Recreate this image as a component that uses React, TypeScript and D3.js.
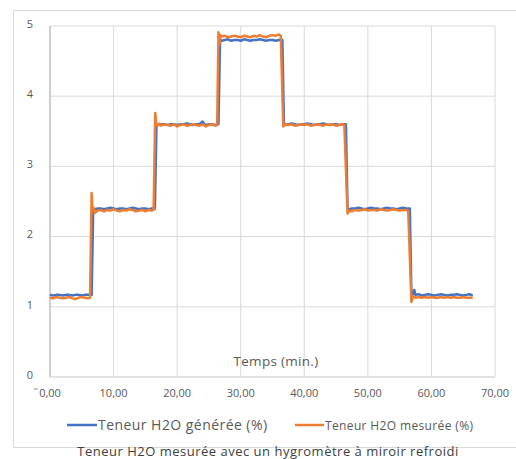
import React from "react";
import * as d3 from "d3";

const xTicks = [0, 10, 20, 30, 40, 50, 60, 70];
const yTicks = [0, 1, 2, 3, 4, 5];

const seriesNames = ["Teneur H2O générée (%)", "Teneur H2O mesurée (%)"];
const xTitle = "Temps (min.)";
const chartTitle = "Teneur H2O mesurée avec un hygromètre à miroir refroidi";

const generated: [number, number][] = [
  [0,1.17],[0.5,1.16],[1,1.17],[1.5,1.17],[2,1.16],[2.5,1.17],[3,1.17],[3.5,1.16],[4,1.17],[4.5,1.17],[5,1.16],[5.5,1.17],[6,1.17],[6.55,1.17],
  [6.8,2.40],[7,2.39],[7.5,2.40],[8,2.40],[8.5,2.39],[9,2.40],[9.5,2.41],[10,2.40],[10.5,2.39],[11,2.40],[11.5,2.40],[12,2.39],[12.5,2.40],[13,2.41],[13.5,2.40],[14,2.39],[14.5,2.40],[15,2.40],[15.5,2.39],[16,2.40],[16.5,2.40],
  [16.75,3.60],[17,3.59],[17.5,3.60],[18,3.60],[18.5,3.59],[19,3.60],[19.5,3.60],[20,3.59],[20.5,3.60],[21,3.60],[21.5,3.61],[22,3.60],[22.5,3.59],[23,3.60],[23.5,3.60],[24,3.64],[24.3,3.60],[24.5,3.59],[25,3.60],[25.5,3.60],[26,3.59],[26.5,3.60],
  [26.75,4.80],[27,4.79],[27.5,4.80],[28,4.81],[28.5,4.79],[29,4.80],[29.5,4.80],[30,4.79],[30.5,4.81],[31,4.80],[31.5,4.79],[32,4.80],[32.5,4.80],[33,4.81],[33.5,4.80],[34,4.79],[34.5,4.80],[35,4.80],[35.5,4.79],[36,4.80],[36.55,4.80],
  [36.8,3.60],[37,3.59],[37.5,3.60],[38,3.61],[38.5,3.60],[39,3.59],[39.5,3.60],[40,3.60],[40.5,3.61],[41,3.60],[41.5,3.59],[42,3.60],[42.5,3.60],[43,3.61],[43.5,3.60],[44,3.59],[44.5,3.60],[45,3.60],[45.5,3.59],[46,3.60],[46.55,3.60],
  [46.8,2.40],[47,2.39],[47.5,2.40],[48,2.40],[48.5,2.41],[49,2.40],[49.5,2.39],[50,2.40],[50.5,2.41],[51,2.40],[51.5,2.40],[52,2.39],[52.5,2.40],[53,2.41],[53.5,2.40],[54,2.40],[54.5,2.39],[55,2.40],[55.5,2.41],[56,2.40],[56.6,2.40],
  [56.85,1.17],[57.1,1.18],[57.3,1.24],[57.5,1.17],[58,1.18],[58.5,1.16],[59,1.17],[59.5,1.18],[60,1.17],[60.5,1.16],[61,1.17],[61.5,1.18],[62,1.17],[62.5,1.16],[63,1.17],[63.5,1.17],[64,1.18],[64.5,1.17],[65,1.16],[65.5,1.17],[66,1.18],[66.5,1.16],
];

const measured: [number, number][] = [
  [0,1.13],[0.5,1.12],[1,1.14],[1.5,1.13],[2,1.12],[2.5,1.13],[3,1.14],[3.5,1.12],[4,1.11],[4.5,1.13],[5,1.14],[5.5,1.13],[6,1.12],[6.3,1.13],
  [6.55,2.62],[6.7,2.36],[6.85,2.41],[7.1,2.34],[7.5,2.37],[8,2.38],[8.5,2.36],[9,2.38],[9.5,2.37],[10,2.39],[10.5,2.37],[11,2.36],[11.5,2.38],[12,2.37],[12.5,2.39],[13,2.38],[13.5,2.36],[14,2.37],[14.5,2.38],[15,2.36],[15.5,2.38],[16,2.37],[16.3,2.38],
  [16.55,3.76],[16.7,3.62],[16.9,3.58],[17.2,3.61],[17.5,3.58],[18,3.60],[18.5,3.59],[19,3.58],[19.5,3.60],[20,3.57],[20.5,3.59],[21,3.60],[21.5,3.58],[22,3.59],[22.5,3.60],[23,3.59],[23.5,3.58],[24,3.60],[24.5,3.57],[25,3.59],[25.5,3.60],[26,3.58],[26.3,3.59],
  [26.5,4.91],[26.6,4.72],[26.8,4.87],[27,4.85],[27.5,4.86],[28,4.84],[28.5,4.85],[29,4.86],[29.5,4.85],[30,4.84],[30.5,4.86],[31,4.85],[31.5,4.84],[32,4.86],[32.5,4.85],[33,4.87],[33.5,4.85],[34,4.84],[34.5,4.86],[35,4.87],[35.5,4.86],[36,4.88],[36.3,4.86],
  [36.7,3.57],[37,3.60],[37.5,3.59],[38,3.60],[38.5,3.58],[39,3.59],[39.5,3.60],[40,3.59],[40.5,3.60],[41,3.58],[41.5,3.59],[42,3.60],[42.5,3.59],[43,3.58],[43.5,3.60],[44,3.59],[44.5,3.60],[45,3.58],[45.5,3.59],[46,3.60],[46.3,3.59],
  [46.8,2.33],[47.1,2.37],[47.5,2.36],[48,2.38],[48.5,2.37],[49,2.38],[49.5,2.39],[50,2.37],[50.5,2.38],[51,2.38],[51.5,2.37],[52,2.39],[52.5,2.38],[53,2.37],[53.5,2.38],[54,2.39],[54.5,2.38],[55,2.37],[55.5,2.38],[56,2.38],[56.35,2.37],
  [56.85,1.07],[57.1,1.15],[57.5,1.13],[58,1.14],[58.5,1.13],[59,1.14],[59.5,1.13],[60,1.14],[60.5,1.13],[61,1.13],[61.5,1.14],[62,1.13],[62.5,1.14],[63,1.13],[63.5,1.14],[64,1.13],[64.5,1.13],[65,1.14],[65.5,1.13],[66,1.13],[66.5,1.13],
];

const colors = ["#4472C4", "#ED7D31"];

const W = 516;
const H = 459;
const left = 50, right = 495, top = 26, bottom = 377;

const fr = d3.formatLocale({ decimal: ",", thousands: " ", grouping: [3], currency: ["", "€"] });
const fmt = fr.format(".2f");

export default function App() {
  const x = d3.scaleLinear().domain([0, 70]).range([left, right]);
  const y = d3.scaleLinear().domain([0, 5]).range([bottom, top]);
  const line = d3.line<[number, number]>().x((d) => x(d[0])).y((d) => y(d[1]));
  const font = "'Open Sans', sans-serif";
  const textColor = "#595959";

  return (
    <svg width={W} height={H} style={{ position: "absolute", left: 0, top: 0, background: "#fff" }} fontFamily={font}>
      <rect x={0} y={0} width={W} height={H} fill="#fff" />
      <rect x={13.5} y={10.5} width={520} height={437} fill="none" stroke="#d9d9d9" strokeWidth={1} />
      {xTicks.slice(1).map((t) => (
        <line key={"gx" + t} x1={x(t)} x2={x(t)} y1={top} y2={bottom} stroke="#d9d9d9" strokeWidth={1} />
      ))}
      {yTicks.slice(1).map((t) => (
        <line key={"gy" + t} x1={left} x2={right} y1={y(t)} y2={y(t)} stroke="#d9d9d9" strokeWidth={1} />
      ))}
      <line x1={left} x2={left} y1={top} y2={bottom} stroke="#bfbfbf" strokeWidth={1.5} />
      <line x1={left} x2={right} y1={bottom} y2={bottom} stroke="#d9d9d9" strokeWidth={1.5} />
      {yTicks.map((t) => (
        <text key={"ty" + t} x={30} y={y(t) - 2} dy="0.35em" textAnchor="middle" fontSize={11} fill={textColor}>
          {t}
        </text>
      ))}
      <line x1={34} x2={38} y1={389} y2={389} stroke="#8c8c8c" strokeWidth={1} />
      {xTicks.map((t) => (
        <text key={"tx" + t} x={x(t)} y={397} textAnchor="middle" fontSize={11} fill={textColor}>
          {fmt(t)}
        </text>
      ))}
      <path d={line(generated) || ""} fill="none" stroke={colors[0]} strokeWidth={2.5} strokeLinejoin="round" />
      <path d={line(measured) || ""} fill="none" stroke={colors[1]} strokeWidth={2.5} strokeLinejoin="round" />
      <text x={276} y={366} textAnchor="middle" fontSize={13.5} letterSpacing={0.3} fill={textColor}>{xTitle}</text>
      <line x1={67} x2={97} y1={425} y2={425} stroke={colors[0]} strokeWidth={2.5} />
      <text x={98} y={430} fontSize={14} letterSpacing={0.45} fill={textColor}>{seriesNames[0]}</text>
      <line x1={295} x2={324} y1={425} y2={425} stroke={colors[1]} strokeWidth={2.5} />
      <text x={325} y={430} fontSize={12} letterSpacing={0.36} fill={textColor}>{seriesNames[1]}</text>
      <text x={268} y={456} textAnchor="middle" fontSize={13} letterSpacing={0.5} fill="#404040">{chartTitle}</text>
    </svg>
  );
}
